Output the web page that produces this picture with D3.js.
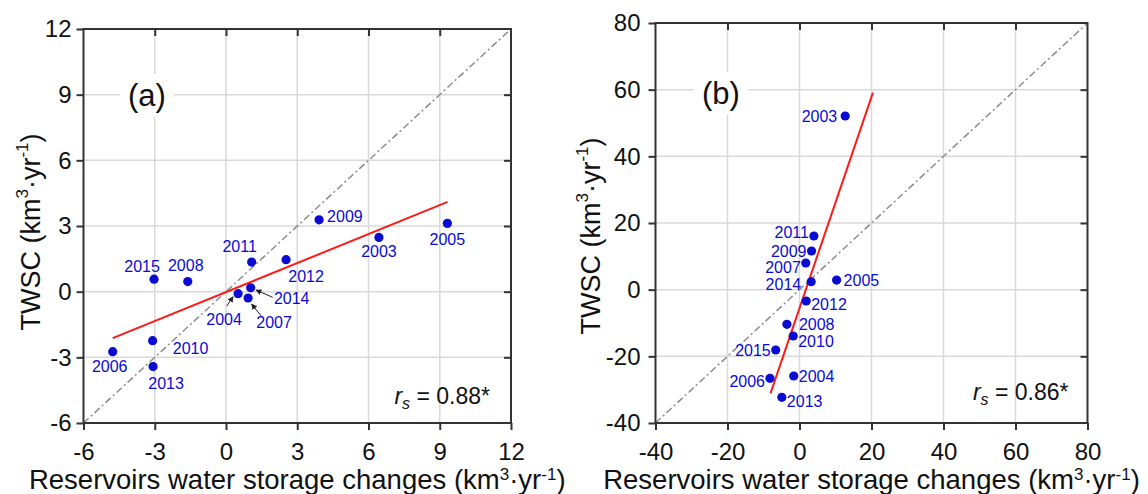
<!DOCTYPE html>
<html>
<head>
<meta charset="utf-8">
<script src="https://cdn.jsdelivr.net/npm/d3@7"></script>
<style>
  html, body { margin: 0; padding: 0; background: #fff; }
  svg { display: block; font-family: "Liberation Sans", Arial, sans-serif; }
</style>
</head>
<body>
<svg id="chart" width="1148" height="494"></svg>
<script>
// Years of the record (same order for every series below)
const years = [2003, 2004, 2005, 2006, 2007, 2008, 2009, 2010, 2011, 2012, 2013, 2014, 2015];

// Panel (a): reservoir storage change vs TWSC (km3/yr)
const reservoirA = [6.44, 0.51, 9.32, -4.77, 0.93, -1.61, 3.92, -3.09, 1.08, 2.53, -3.07, 1.04, -3.03];
const twscA      = [2.48, -0.09, 3.12, -2.74, -0.29, 0.46, 3.28, -2.24, 1.35, 1.46, -3.42, 0.18, 0.57];

// Panel (b): reservoir storage change vs TWSC (km3/yr)
const reservoirB = [12.7, -1.6, 10.3, -8.2, 1.75, -3.5, 3.34, -1.75, 4.0, 1.86, -4.9, 3.25, -6.6];
const twscB      = [52.1, -25.9, 2.88, -26.6, 8.0, -10.4, 11.6, -13.9, 16.1, -3.4, -32.3, 2.37, -18.1];

// Fitted regression lines (end points)
const fitAx = [-4.77, 9.33], fitAy = [-2.12, 4.10];
const fitBx = [-8.06, 20.4], fitBy = [-31.1, 59.1];

// Axis ticks
const ticksA = [-6, -3, 0, 3, 6, 9, 12];
const ticksB = [-40, -20, 0, 20, 40, 60, 80];

// Panel letters and correlation coefficients
const panelNames = ["(a)", "(b)"];
const rsValues = ["0.88*", "0.86*"];

const svg = d3.select("#chart");
const FONT = '"Liberation Sans", Arial, sans-serif';
const BLUE = "#0a0ad2";

// Year-label placement around each point: [dx, dy, anchor]
const labelPosA = {
  2003: [0, 14, "middle"], 2004: [-14, 26, "middle"], 2005: [0, 16, "middle"],
  2006: [-3, 15, "middle"], 2007: [26, 24, "middle"], 2008: [-2, -16, "middle"],
  2009: [8, -4, "start"], 2010: [38, 8, "middle"], 2011: [-12, -16, "middle"],
  2012: [20, 17, "middle"], 2013: [13, 17, "middle"], 2014: [41, 11, "middle"],
  2015: [-12, -13, "middle"]
};
const labelPosB = {
  2003: [-8, 0, "end"], 2004: [5, 0, "start"], 2005: [7, 0, "start"],
  2006: [-5, 3, "end"], 2007: [-5, 4.5, "end"], 2008: [12, 0, "start"],
  2009: [-5, 0, "end"], 2010: [5, 5, "start"], 2011: [-5, -4, "end"],
  2012: [5, 3, "start"], 2013: [5, 4, "start"], 2014: [-10, 2, "end"],
  2015: [-5, 0, "end"]
};
// Leader arrows for crowded labels: [tail offset, head offset] from the point
const arrowsA = {
  2004: [[-11.3, 12.3], [-5, 3]],
  2007: [[13.7, 18.7], [3.5, 6]],
  2014: [[22, 9.6], [5.3, 2.3]]
};

// Arrowhead marker
svg.append("defs").append("marker")
  .attr("id", "arrowhead")
  .attr("viewBox", "0 0 10 10")
  .attr("refX", 9).attr("refY", 5)
  .attr("markerWidth", 6).attr("markerHeight", 6)
  .attr("markerUnits", "userSpaceOnUse")
  .attr("orient", "auto")
  .append("path").attr("d", "M0,0 L10,5 L0,10 z").attr("fill", "#222");

function addUnits(t, supSize, raise) {
  t.append("tspan").text("(km");
  t.append("tspan").attr("font-size", supSize).attr("dy", -raise).text("3");
  t.append("tspan").attr("dy", raise).text("\u00B7yr");
  t.append("tspan").attr("font-size", supSize).attr("dy", -raise).text("-1");
  t.append("tspan").attr("dy", raise).text(")");
}

// plain hyphen-minus for negative tick labels
const tickFmt = d => String(d);

function drawPanel(cfg) {
  const g = svg.append("g");
  const x = d3.scaleLinear().domain([cfg.ticks[0], cfg.ticks[cfg.ticks.length - 1]]).range([cfg.left, cfg.right]);
  const y = d3.scaleLinear().domain([cfg.ticks[0], cfg.ticks[cfg.ticks.length - 1]]).range([cfg.bottom, cfg.top]);
  const inner = cfg.ticks.slice(1, -1);

  // grid
  g.append("g").selectAll("line.v").data(inner).join("line")
    .attr("x1", d => x(d)).attr("x2", d => x(d))
    .attr("y1", cfg.top).attr("y2", cfg.bottom)
    .attr("stroke", "#d9d9d9").attr("stroke-width", 1.5);
  g.append("g").selectAll("line.h").data(inner).join("line")
    .attr("y1", d => y(d)).attr("y2", d => y(d))
    .attr("x1", cfg.left).attr("x2", cfg.right)
    .attr("stroke", "#d9d9d9").attr("stroke-width", 1.5);

  // panel letter on a white patch
  const letterG = g.append("g");
  const letter = letterG.append("text")
    .attr("x", cfg.letterX).attr("y", cfg.letterY)
    .attr("text-anchor", "middle").attr("dy", "0.35em")
    .attr("font-size", 31).attr("fill", "#111").text(cfg.letter);
  const bb = letter.node().getBBox();
  letterG.insert("rect", "text")
    .attr("x", bb.x - 8).attr("y", bb.y - 4)
    .attr("width", bb.width + 16).attr("height", bb.height + 8)
    .attr("fill", "#fff");

  // 1:1 line
  const d0 = cfg.ticks[0], d1 = cfg.ticks[cfg.ticks.length - 1];
  g.append("line")
    .attr("x1", x(d0)).attr("y1", y(d0)).attr("x2", x(d1)).attr("y2", y(d1))
    .attr("stroke", "#8c8c8c").attr("stroke-width", 1.5)
    .attr("stroke-dasharray", "7,3,2,3");

  // regression line
  g.append("line")
    .attr("x1", x(cfg.fitX[0])).attr("y1", y(cfg.fitY[0]))
    .attr("x2", x(cfg.fitX[1])).attr("y2", y(cfg.fitY[1]))
    .attr("stroke", "#ff1a1a").attr("stroke-width", 2);

  const pts = years.map((yr, i) => ({ yr, xv: cfg.xs[i], yv: cfg.ys[i] }));

  // leader arrows
  g.append("g").selectAll("line").data(pts.filter(p => cfg.arrows[p.yr])).join("line")
    .attr("x1", p => x(p.xv) + cfg.arrows[p.yr][0][0])
    .attr("y1", p => y(p.yv) + cfg.arrows[p.yr][0][1])
    .attr("x2", p => x(p.xv) + cfg.arrows[p.yr][1][0])
    .attr("y2", p => y(p.yv) + cfg.arrows[p.yr][1][1])
    .attr("stroke", "#222").attr("stroke-width", 1)
    .attr("marker-end", "url(#arrowhead)");

  // points
  g.append("g").selectAll("circle").data(pts).join("circle")
    .attr("cx", p => x(p.xv)).attr("cy", p => y(p.yv)).attr("r", 4.6)
    .attr("fill", BLUE);

  // year labels
  g.append("g").selectAll("text").data(pts).join("text")
    .attr("x", p => x(p.xv) + cfg.labels[p.yr][0])
    .attr("y", p => y(p.yv) + cfg.labels[p.yr][1])
    .attr("dy", "0.36em")
    .attr("text-anchor", p => cfg.labels[p.yr][2])
    .attr("font-size", 16).attr("fill", BLUE)
    .text(p => p.yr);

  // frame
  g.append("rect")
    .attr("x", cfg.left).attr("y", cfg.top)
    .attr("width", cfg.right - cfg.left).attr("height", cfg.bottom - cfg.top)
    .attr("fill", "none").attr("stroke", "#333").attr("stroke-width", 2);

  // axes: outward ticks with labels on left/bottom, inward ticks on top/right
  const axStyle = sel => {
    sel.select(".domain").remove();
    sel.selectAll(".tick line").attr("stroke", "#333").attr("stroke-width", 2);
    sel.selectAll(".tick text").attr("font-size", 24).attr("font-family", FONT).attr("fill", "#111");
  };
  g.append("g").attr("transform", `translate(${cfg.left},0)`)
    .call(d3.axisLeft(y).tickValues(cfg.ticks).tickSize(7).tickPadding(cfg.yPad).tickFormat(tickFmt))
    .call(axStyle);
  g.append("g").attr("transform", `translate(0,${cfg.bottom})`)
    .call(d3.axisBottom(x).tickValues(cfg.ticks).tickSize(7).tickPadding(13).tickFormat(tickFmt))
    .call(axStyle);
  g.append("g").attr("transform", `translate(0,${cfg.top})`)
    .call(d3.axisTop(x).tickValues(inner).tickSize(-7).tickFormat(""))
    .call(axStyle);
  g.append("g").attr("transform", `translate(${cfg.right},0)`)
    .call(d3.axisRight(y).tickValues(inner).tickSize(-7).tickFormat(""))
    .call(axStyle);

  // r_s annotation
  const rs = g.append("text")
    .attr("x", cfg.right - cfg.rsInset).attr("y", cfg.rsY)
    .attr("text-anchor", "end").attr("font-size", 23).attr("fill", "#111");
  rs.append("tspan").attr("font-style", "italic").text("r");
  rs.append("tspan").attr("font-style", "italic").attr("font-size", 16).attr("dy", 5).text("s");
  rs.append("tspan").attr("dy", -5).text(" = " + cfg.rs);

  // axis titles
  const xt = g.append("text")
    .attr("x", (cfg.left + cfg.right) / 2).attr("y", 489)
    .attr("text-anchor", "middle").attr("font-size", 27.5).attr("fill", "#111");
  xt.append("tspan").text("Reservoirs water storage changes ");
  addUnits(xt, 17, 9.5);

  const yt = g.append("text")
    .attr("transform", `translate(${cfg.yTitleX},${cfg.yTitleY}) rotate(-90)`)
    .attr("text-anchor", "middle").attr("font-size", 27).attr("fill", "#111");
  yt.append("tspan").text("TWSC ");
  addUnits(yt, 17, 12);
}

drawPanel({
  left: 83.5, right: 511, top: 29, bottom: 423,
  ticks: ticksA, xs: reservoirA, ys: twscA, fitX: fitAx, fitY: fitAy,
  labels: labelPosA, arrows: arrowsA,
  letter: panelNames[0], letterX: 147, letterY: 95,
  rs: rsValues[0], rsInset: 21, rsY: 404,
  yPad: 5, yTitleX: 40, yTitleY: 232
});

drawPanel({
  left: 655.5, right: 1087.5, top: 23, bottom: 423,
  ticks: ticksB, xs: reservoirB, ys: twscB, fitX: fitBx, fitY: fitBy,
  labels: labelPosB, arrows: {},
  letter: panelNames[1], letterX: 721, letterY: 93,
  rs: rsValues[1], rsInset: 19, rsY: 400,
  yPad: 8, yTitleX: 600, yTitleY: 236
});
</script>
</body>
</html>
